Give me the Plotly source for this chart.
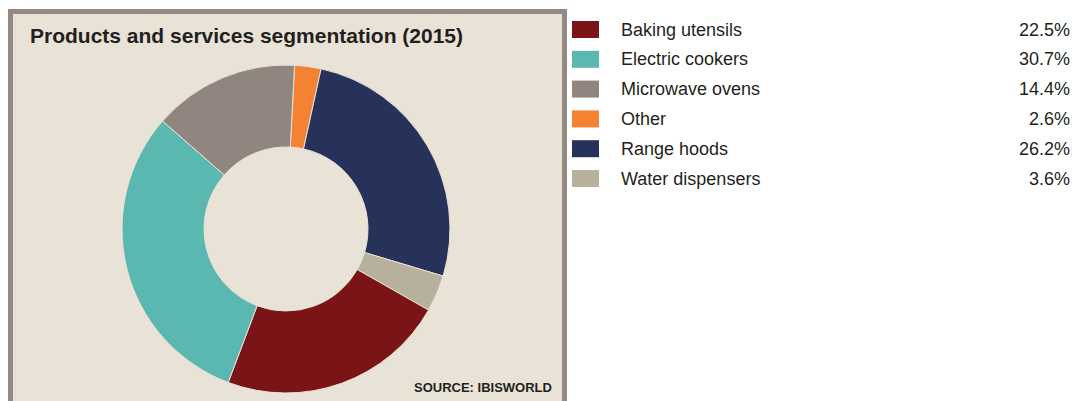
import plotly.graph_objects as go

# Data (pie order, clockwise from top)
categories = ["Other", "Range hoods", "Water dispensers", "Baking utensils", "Electric cookers", "Microwave ovens"]
shares = [2.6, 26.2, 3.6, 22.5, 30.7, 14.4]
colors = ["#F58233", "#27325A", "#B7B09C", "#7B1416", "#5BB8B0", "#918580"]

# Legend order (alphabetical as in the reference)
legend_order = ["Baking utensils", "Electric cookers", "Microwave ovens", "Other", "Range hoods", "Water dispensers"]

title_text = "Products and services segmentation (2015)"
source_text = "SOURCE: IBISWORLD"

W, H = 1073, 401
BG = "#E9E3D7"
BORDER = "#958984"
TXT = "#231F20"
FONT = "Liberation Sans, Arial, sans-serif"

def px(x):
    return x / W

def py(y):
    return 1 - y / H

fig = go.Figure()

cx, cy, r = 286, 229, 164
fig.add_trace(go.Pie(
    labels=categories,
    values=shares,
    marker=dict(colors=colors, line=dict(color=BG, width=1)),
    hole=0.5,
    sort=False,
    direction="clockwise",
    rotation=3,
    textinfo="none",
    hoverinfo="label+percent",
    showlegend=False,
    domain=dict(x=[px(cx - r), px(cx + r)], y=[py(cy + r), py(cy - r)]),
))

shapes = [
    dict(type="rect", xref="paper", yref="paper",
         x0=px(10.5), x1=px(564.5), y0=py(420), y1=py(11.5),
         fillcolor=BG, line=dict(color=BORDER, width=5), layer="below")
]

annotations = [
    dict(text=f"<b>{title_text}</b>", xref="paper", yref="paper",
         x=px(28), y=py(35), xanchor="left", yanchor="middle", showarrow=False,
         font=dict(family=FONT, size=21, color=TXT)),
    dict(text=f"<b>{source_text}</b>", xref="paper", yref="paper",
         x=px(554), y=py(387), xanchor="right", yanchor="middle", showarrow=False,
         font=dict(family=FONT, size=13, color=TXT)),
]

color_map = dict(zip(categories, colors))
share_map = dict(zip(categories, shares))
row0, step = 29.5, 29.8
for i, name in enumerate(legend_order):
    yc = row0 + i * step
    shapes.append(dict(type="rect", xref="paper", yref="paper",
                       x0=px(572), x1=px(599), y0=py(yc + 8.5), y1=py(yc - 8.5),
                       fillcolor=color_map[name], line=dict(width=0)))
    annotations.append(dict(text=name, xref="paper", yref="paper",
                            x=px(619), y=py(yc), xanchor="left", yanchor="middle",
                            showarrow=False, font=dict(family=FONT, size=18, color=TXT)))
    annotations.append(dict(text=f"{share_map[name]:.1f}%", xref="paper", yref="paper",
                            x=px(1072), y=py(yc), xanchor="right", yanchor="middle",
                            showarrow=False, font=dict(family=FONT, size=18, color=TXT)))

fig.update_layout(
    width=W, height=H,
    margin=dict(l=0, r=0, t=0, b=0),
    paper_bgcolor="white",
    plot_bgcolor="white",
    shapes=shapes,
    annotations=annotations,
    showlegend=False,
)

fig.write_html(
    "out.html",
    config={"displayModeBar": False},
    post_script="document.body.style.margin='0';document.body.style.overflow='hidden';",
)
